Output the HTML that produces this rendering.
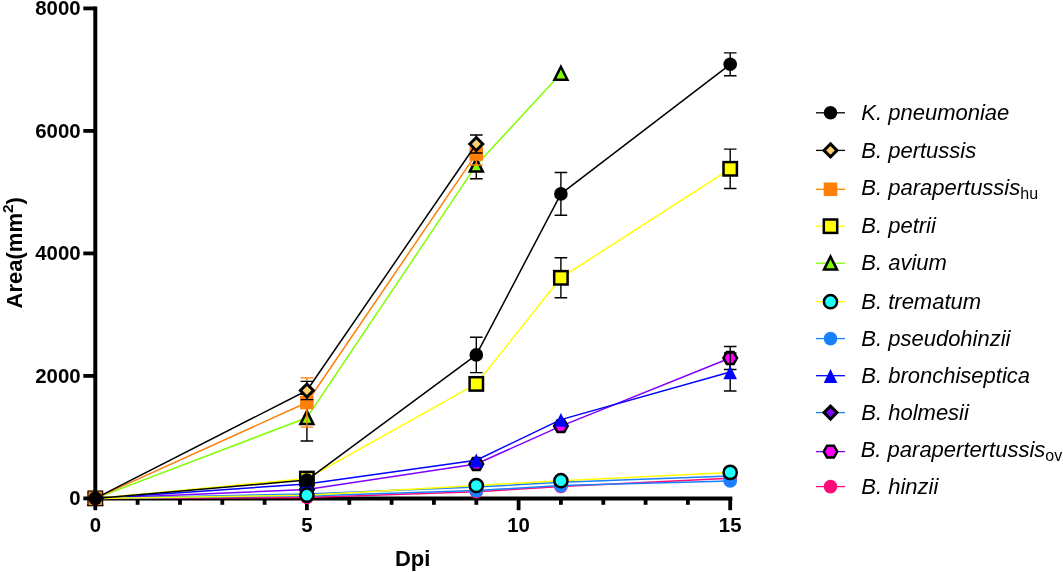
<!DOCTYPE html>
<html lang="en"><head><meta charset="utf-8"><title>Area vs Dpi</title>
<style>
html,body{margin:0;padding:0;background:#fff;}
body{width:1063px;height:572px;overflow:hidden;}
svg{display:block;}
text{font-family:"Liberation Sans",Arial,Helvetica,sans-serif;fill:#000;}
.tk{font-size:20.4px;font-weight:bold;}
.ttl{font-size:22px;font-weight:bold;}
.lg{font-size:22px;font-style:italic;}
.sb{font-size:16px;font-style:normal;}
</style></head><body>
<svg width="1063" height="572" viewBox="0 0 1063 572">
<rect width="1063" height="572" fill="#fff"/>

<g stroke="#000" stroke-width="4.0" fill="none" stroke-linecap="butt">
<path d="M95.3 6.4V500.4"/>
<path d="M93.3 498.4H732.3499999999999"/>
</g>
<g stroke="#000" stroke-width="3.8" fill="none">
<path d="M83.3 498.4H95.3"/>
<path d="M83.3 375.9H95.3"/>
<path d="M83.3 253.4H95.3"/>
<path d="M83.3 130.9H95.3"/>
<path d="M83.3 8.4H95.3"/>
<path d="M95.3 498.4V510.2"/>
<path d="M137.6 498.4V504.8"/>
<path d="M180.0 498.4V504.8"/>
<path d="M222.3 498.4V504.8"/>
<path d="M264.6 498.4V504.8"/>
<path d="M306.9 498.4V510.2"/>
<path d="M349.3 498.4V504.8"/>
<path d="M391.6 498.4V504.8"/>
<path d="M433.9 498.4V504.8"/>
<path d="M476.3 498.4V504.8"/>
<path d="M518.6 498.4V510.2"/>
<path d="M560.9 498.4V504.8"/>
<path d="M603.3 498.4V504.8"/>
<path d="M645.6 498.4V504.8"/>
<path d="M687.9 498.4V504.8"/>
<path d="M730.2 498.4V510.2"/>
</g>
<text class="tk" x="80.6" y="505.0" text-anchor="end">0</text>
<text class="tk" x="80.6" y="382.5" text-anchor="end">2000</text>
<text class="tk" x="80.6" y="260.0" text-anchor="end">4000</text>
<text class="tk" x="80.6" y="137.5" text-anchor="end">6000</text>
<text class="tk" x="80.6" y="15.0" text-anchor="end">8000</text>
<text class="tk" x="95.3" y="532.0" text-anchor="middle">0</text>
<text class="tk" x="306.9" y="532.0" text-anchor="middle">5</text>
<text class="tk" x="518.6" y="532.0" text-anchor="middle">10</text>
<text class="tk" x="730.2" y="532.0" text-anchor="middle">15</text>
<text class="ttl" x="412.7" y="566" text-anchor="middle">Dpi</text>
<text class="ttl" transform="translate(22.2 252.8) rotate(-90)" text-anchor="middle">Area(mm<tspan font-size="15.4" dy="-9.7">2</tspan><tspan dy="9.7">)</tspan></text>
<g>
<path d="M95.3 498.4L306.9 497.5L476.3 491.8L560.9 486.5L730.2 478.3" stroke="#ff0a78" stroke-width="1.5" fill="none" stroke-linejoin="round"/>
<circle cx="95.3" cy="498.4" r="6.8" fill="#ff0a78"/>
<circle cx="306.9" cy="497.5" r="6.8" fill="#ff0a78"/>
<circle cx="476.3" cy="491.8" r="6.8" fill="#ff0a78"/>
<circle cx="560.9" cy="486.5" r="6.8" fill="#ff0a78"/>
<circle cx="730.2" cy="478.3" r="6.8" fill="#ff0a78"/>
</g>
<g>
<path d="M95.3 498.4L306.9 489.5L476.3 464.0L560.9 426.1L730.2 358.0" stroke="#8000ff" stroke-width="1.5" fill="none" stroke-linejoin="round"/>
<path d="M730.2 346.5V369.5M723.9 346.5H736.5M723.9 369.5H736.5" stroke="#000" stroke-width="1.4" fill="none"/>
<path d="M88.5 498.4L91.9 492.5L98.7 492.5L102.1 498.4L98.7 504.3L91.9 504.3Z" fill="#ff00ff" stroke="#000" stroke-width="2.5" stroke-linejoin="miter"/>
<path d="M300.1 489.5L303.6 483.6L310.3 483.6L313.8 489.5L310.3 495.4L303.6 495.4Z" fill="#ff00ff" stroke="#000" stroke-width="2.5" stroke-linejoin="miter"/>
<path d="M469.5 464.0L472.9 458.1L479.7 458.1L483.1 464.0L479.7 469.9L472.9 469.9Z" fill="#ff00ff" stroke="#000" stroke-width="2.5" stroke-linejoin="miter"/>
<path d="M554.1 426.1L557.5 420.2L564.3 420.2L567.7 426.1L564.3 432.0L557.5 432.0Z" fill="#ff00ff" stroke="#000" stroke-width="2.5" stroke-linejoin="miter"/>
<path d="M723.4 358.0L726.8 352.1L733.6 352.1L737.0 358.0L733.6 363.9L726.8 363.9Z" fill="#ff00ff" stroke="#000" stroke-width="2.5" stroke-linejoin="miter"/>
</g>
<g>
<path d="M95.3 498.4L306.9 494.0L476.3 487.0L560.9 482.3L730.2 475.9" stroke="#1a80ff" stroke-width="1.5" fill="none" stroke-linejoin="round"/>
</g>
<g>
<path d="M95.3 498.4L306.9 484.0L476.3 460.2L560.9 419.6L730.2 372.0" stroke="#0000ff" stroke-width="1.5" fill="none" stroke-linejoin="round"/>
<path d="M730.2 353.0V391.0M723.9 353.0H736.5M723.9 391.0H736.5" stroke="#000" stroke-width="1.4" fill="none"/>
<path d="M95.3 491.8L102.1 505.6L88.5 505.6Z" fill="#0000ff"/>
<path d="M306.9 477.4L313.8 491.2L300.1 491.2Z" fill="#0000ff"/>
<path d="M476.3 453.6L483.1 467.4L469.5 467.4Z" fill="#0000ff"/>
<path d="M560.9 413.0L567.7 426.8L554.1 426.8Z" fill="#0000ff"/>
<path d="M730.2 365.4L737.0 379.2L723.4 379.2Z" fill="#0000ff"/>
</g>
<g>
<path d="M95.3 498.4L306.9 496.0L476.3 490.6L560.9 485.6L730.2 480.9" stroke="#1a80ff" stroke-width="1.5" fill="none" stroke-linejoin="round"/>
<circle cx="95.3" cy="498.4" r="6.8" fill="#1a80ff"/>
<circle cx="306.9" cy="496.0" r="6.8" fill="#1a80ff"/>
<circle cx="476.3" cy="490.6" r="6.8" fill="#1a80ff"/>
<circle cx="560.9" cy="485.6" r="6.8" fill="#1a80ff"/>
<circle cx="730.2" cy="480.9" r="6.8" fill="#1a80ff"/>
</g>
<g>
<path d="M95.3 498.4L306.9 495.2L476.3 485.5L560.9 480.7L730.2 472.4" stroke="#ffff00" stroke-width="1.5" fill="none" stroke-linejoin="round"/>
<circle cx="95.3" cy="498.4" r="6.6" fill="#20ffff" stroke="#000" stroke-width="2.5" stroke-linejoin="miter"/>
<circle cx="306.9" cy="495.2" r="6.6" fill="#20ffff" stroke="#000" stroke-width="2.5" stroke-linejoin="miter"/>
<circle cx="476.3" cy="485.5" r="6.6" fill="#20ffff" stroke="#000" stroke-width="2.5" stroke-linejoin="miter"/>
<circle cx="560.9" cy="480.7" r="6.6" fill="#20ffff" stroke="#000" stroke-width="2.5" stroke-linejoin="miter"/>
<circle cx="730.2" cy="472.4" r="6.6" fill="#20ffff" stroke="#000" stroke-width="2.5" stroke-linejoin="miter"/>
</g>
<g>
<path d="M95.3 498.4L306.9 417.7L476.3 165.2L560.9 73.4" stroke="#80ff00" stroke-width="1.5" fill="none" stroke-linejoin="round"/>
<path d="M306.9 394.4V441.0M300.6 394.4H313.2M300.6 441.0H313.2" stroke="#000" stroke-width="1.4" fill="none"/>
<path d="M476.3 151.7V178.7M470.0 151.7H482.6M470.0 178.7H482.6" stroke="#000" stroke-width="1.4" fill="none"/>
<path d="M95.3 491.8L101.8 504.8L88.8 504.8Z" fill="#80ff00" stroke="#000" stroke-width="2.5" stroke-linejoin="miter"/>
<path d="M306.9 411.1L313.4 424.1L300.4 424.1Z" fill="#80ff00" stroke="#000" stroke-width="2.5" stroke-linejoin="miter"/>
<path d="M476.3 158.6L482.8 171.6L469.8 171.6Z" fill="#80ff00" stroke="#000" stroke-width="2.5" stroke-linejoin="miter"/>
<path d="M560.9 66.8L567.4 79.8L554.4 79.8Z" fill="#80ff00" stroke="#000" stroke-width="2.5" stroke-linejoin="miter"/>
</g>
<g>
<path d="M95.3 498.4L306.9 478.6L476.3 383.9L560.9 277.8L730.2 168.8" stroke="#ffff00" stroke-width="1.5" fill="none" stroke-linejoin="round"/>
<path d="M560.9 257.8V297.8M554.6 257.8H567.2M554.6 297.8H567.2" stroke="#000" stroke-width="1.4" fill="none"/>
<path d="M730.2 149.1V188.5M723.9 149.1H736.5M723.9 188.5H736.5" stroke="#000" stroke-width="1.4" fill="none"/>
<rect x="88.6" y="491.7" width="13.4" height="13.4" fill="#ffff00" stroke="#000" stroke-width="2.5" stroke-linejoin="miter"/>
<rect x="300.2" y="471.9" width="13.4" height="13.4" fill="#ffff00" stroke="#000" stroke-width="2.5" stroke-linejoin="miter"/>
<rect x="469.6" y="377.2" width="13.4" height="13.4" fill="#ffff00" stroke="#000" stroke-width="2.5" stroke-linejoin="miter"/>
<rect x="554.2" y="271.1" width="13.4" height="13.4" fill="#ffff00" stroke="#000" stroke-width="2.5" stroke-linejoin="miter"/>
<rect x="723.5" y="162.1" width="13.4" height="13.4" fill="#ffff00" stroke="#000" stroke-width="2.5" stroke-linejoin="miter"/>
</g>
<g>
<path d="M95.3 498.4L306.9 402.5L476.3 153.9" stroke="#ff8008" stroke-width="1.5" fill="none" stroke-linejoin="round"/>
<path d="M306.9 377.9V427.1M300.6 377.9H313.2M300.6 427.1H313.2" stroke="#ff8008" stroke-width="1.4" fill="none"/>
<path d="M476.3 142.8V165.0M470.0 142.8H482.6M470.0 165.0H482.6" stroke="#ff8008" stroke-width="1.4" fill="none"/>
<rect x="88.5" y="491.6" width="13.6" height="13.6" fill="#ff8008"/>
<rect x="300.1" y="395.7" width="13.6" height="13.6" fill="#ff8008"/>
<rect x="469.5" y="147.1" width="13.6" height="13.6" fill="#ff8008"/>
</g>
<g>
<path d="M95.3 498.4L306.9 390.5L476.3 144.0" stroke="#000" stroke-width="1.5" fill="none" stroke-linejoin="round"/>
<path d="M306.9 381.4V399.6M300.6 381.4H313.2M300.6 399.6H313.2" stroke="#000" stroke-width="1.4" fill="none"/>
<path d="M476.3 135.0V153.0M470.0 135.0H482.6M470.0 153.0H482.6" stroke="#000" stroke-width="1.4" fill="none"/>
<path d="M95.3 491.9L101.8 498.4L95.3 504.9L88.8 498.4Z" fill="#ffd070" stroke="#000" stroke-width="3" stroke-linejoin="miter"/>
<path d="M306.9 384.0L313.4 390.5L306.9 397.0L300.4 390.5Z" fill="#ffd070" stroke="#000" stroke-width="3" stroke-linejoin="miter"/>
<path d="M476.3 137.5L482.8 144.0L476.3 150.5L469.8 144.0Z" fill="#ffd070" stroke="#000" stroke-width="3" stroke-linejoin="miter"/>
</g>
<g>
<path d="M95.3 498.4L306.9 480.1L476.3 354.9L560.9 193.9L730.2 64.3" stroke="#000" stroke-width="1.5" fill="none" stroke-linejoin="round"/>
<path d="M476.3 337.2V372.6M470.0 337.2H482.6M470.0 372.6H482.6" stroke="#000" stroke-width="1.4" fill="none"/>
<path d="M560.9 172.5V215.3M554.6 172.5H567.2M554.6 215.3H567.2" stroke="#000" stroke-width="1.4" fill="none"/>
<path d="M730.2 52.9V75.7M723.9 52.9H736.5M723.9 75.7H736.5" stroke="#000" stroke-width="1.4" fill="none"/>
<circle cx="95.3" cy="498.4" r="6.8" fill="#000"/>
<circle cx="306.9" cy="480.1" r="6.8" fill="#000"/>
<circle cx="476.3" cy="354.9" r="6.8" fill="#000"/>
<circle cx="560.9" cy="193.9" r="6.8" fill="#000"/>
<circle cx="730.2" cy="64.3" r="6.8" fill="#000"/>
</g>
<path d="M816 112.8H845" stroke="#000" stroke-width="1.3"/>
<circle cx="830.5" cy="112.8" r="6.8" fill="#000"/>
<text class="lg" x="861.3" y="120.1">K. pneumoniae</text>
<path d="M816 150.4H845" stroke="#000" stroke-width="1.3"/>
<path d="M830.5 143.9L837.0 150.4L830.5 156.9L824.0 150.4Z" fill="#ffd070" stroke="#000" stroke-width="3" stroke-linejoin="miter"/>
<text class="lg" x="861.3" y="157.8">B. pertussis</text>
<path d="M816 189.3H845" stroke="#ff8008" stroke-width="1.3"/>
<rect x="823.7" y="182.5" width="13.6" height="13.6" fill="#ff8008"/>
<text class="lg" x="861.3" y="194.5">B. parapertussis<tspan class="sb" dy="4.2">hu</tspan></text>
<path d="M816 226.2H845" stroke="#ffff00" stroke-width="1.3"/>
<rect x="823.8" y="219.5" width="13.4" height="13.4" fill="#ffff00" stroke="#000" stroke-width="2.5" stroke-linejoin="miter"/>
<text class="lg" x="861.3" y="233.2">B. petrii</text>
<path d="M816 263.2H845" stroke="#80ff00" stroke-width="1.3"/>
<path d="M830.5 256.6L837.0 269.6L824.0 269.6Z" fill="#80ff00" stroke="#000" stroke-width="2.5" stroke-linejoin="miter"/>
<text class="lg" x="861.3" y="269.8">B. avium</text>
<path d="M816 301.7H845" stroke="#ffff00" stroke-width="1.3"/>
<circle cx="830.5" cy="301.7" r="6.6" fill="#20ffff" stroke="#000" stroke-width="2.5" stroke-linejoin="miter"/>
<text class="lg" x="861.3" y="308.9">B. trematum</text>
<path d="M816 338.6H845" stroke="#1a80ff" stroke-width="1.3"/>
<circle cx="830.5" cy="338.6" r="6.8" fill="#1a80ff"/>
<text class="lg" x="861.3" y="345.9">B. pseudohinzii</text>
<path d="M816 375.7H845" stroke="#0000ff" stroke-width="1.3"/>
<path d="M830.5 369.1L837.3 382.9L823.7 382.9Z" fill="#0000ff"/>
<text class="lg" x="861.3" y="382.9">B. bronchiseptica</text>
<path d="M816 412.6H845" stroke="#1a80ff" stroke-width="1.3"/>
<path d="M830.5 406.1L837.0 412.6L830.5 419.1L824.0 412.6Z" fill="#8000ff" stroke="#000" stroke-width="3" stroke-linejoin="miter"/>
<text class="lg" x="861.3" y="420.2">B. holmesii</text>
<path d="M816 451.6H845" stroke="#8000ff" stroke-width="1.3"/>
<path d="M823.7 451.6L827.1 445.7L833.9 445.7L837.3 451.6L833.9 457.5L827.1 457.5Z" fill="#ff00ff" stroke="#000" stroke-width="2.5" stroke-linejoin="miter"/>
<text class="lg" x="860.7" y="456.8">B. parapertertussis<tspan class="sb" dy="4.2" font-size="15.4">ov</tspan></text>
<path d="M816 486.6H845" stroke="#ff0a78" stroke-width="1.3"/>
<circle cx="830.5" cy="486.6" r="6.8" fill="#ff0a78"/>
<text class="lg" x="861.3" y="494.1">B. hinzii</text>
</svg>
</body></html>
